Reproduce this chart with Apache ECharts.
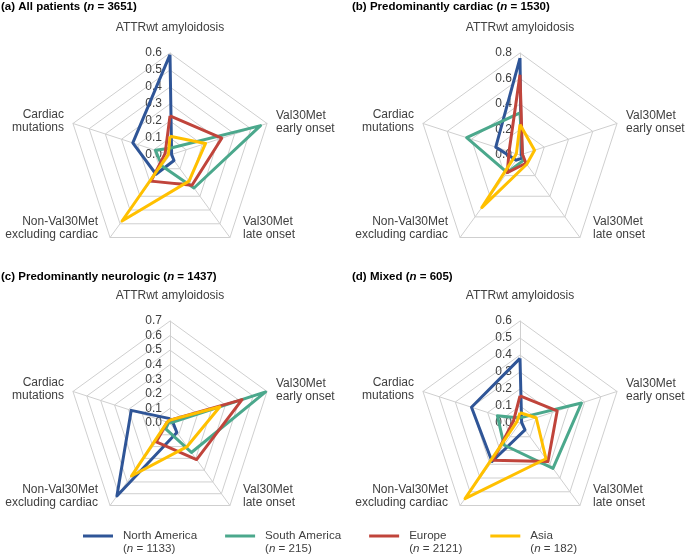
<!DOCTYPE html>
<html>
<head>
<meta charset="utf-8">
<script src="https://cdn.jsdelivr.net/npm/echarts@6/dist/echarts.min.js"></script>
<style>html,body{margin:0;padding:0;background:#fff}#c{width:685px;height:556px}</style>
</head>
<body>
<div id="c"></div>
<script>
// Categories (clockwise from top)
const categories = ['ATTRwt amyloidosis', 'Val30Met\nearly onset', 'Val30Met\nlate onset', 'Non-Val30Met\nexcluding cardiac', 'Cardiac\nmutations'];
const regions = ['North America', 'South America', 'Europe', 'Asia'];
const regionCounts = ['1133', '215', '2121', '182'];
const panelTitles = ['(a) All patients (', '(b) Predominantly cardiac (', '(c) Predominantly neurologic (', '(d) Mixed ('];
const panelCounts = ['3651', '1530', '1437', '605'];
const panelMax = [0.6, 0.8, 0.7, 0.6];
const panelInterval = [0.1, 0.2, 0.1, 0.1];

// values per region, order: ATTRwt, early, late, non-Val30Met, cardiac
const allNorthAmerica = [0.59, 0.01, 0.04, 0.14, 0.23];
const allSouthAmerica = [0.04, 0.56, 0.24, 0.08, 0.09];
const allEurope       = [0.23, 0.32, 0.22, 0.19, 0.03];
const allAsia         = [0.11, 0.22, 0.19, 0.48, 0.01];

const cardNorthAmerica = [0.76, 0.01, 0.03, 0.05, 0.20];
const cardSouthAmerica = [0.33, 0.02, 0.05, 0.17, 0.44];
const cardEurope       = [0.63, 0.02, 0.08, 0.17, 0.09];
const cardAsia         = [0.24, 0.12, 0.09, 0.51, 0.03];

const neuroNorthAmerica = [0.03, 0.02, 0.08, 0.62, 0.28];
const neuroSouthAmerica = [0.00, 0.69, 0.25, 0.05, 0.01];
const neuroEurope       = [0.02, 0.52, 0.31, 0.16, 0.02];
const neuroAsia         = [0.02, 0.36, 0.20, 0.45, 0.02];

const mixedNorthAmerica = [0.38, 0.01, 0.05, 0.28, 0.30];
const mixedSouthAmerica = [0.03, 0.38, 0.33, 0.16, 0.14];
const mixedEurope       = [0.16, 0.23, 0.28, 0.27, 0.04];
const mixedAsia         = [0.06, 0.10, 0.26, 0.55, 0.02];

const panels = [
  [allNorthAmerica, allSouthAmerica, allEurope, allAsia],
  [cardNorthAmerica, cardSouthAmerica, cardEurope, cardAsia],
  [neuroNorthAmerica, neuroSouthAmerica, neuroEurope, neuroAsia],
  [mixedNorthAmerica, mixedSouthAmerica, mixedEurope, mixedAsia]
];

const colors = ['#2F5597', '#4BA88C', '#C0443B', '#FFC000'];
const centers = [[170, 155], [520, 155], [170, 423], [520, 423]];
const R = 102;
const textColor = '#404040';
const gridColor = '#CFCFCF';
const FONT = 'Arial, "Liberation Sans", sans-serif';

// ECharts radar runs counter-clockwise; reorder so the picture reads clockwise
const order = [0, 4, 3, 2, 1];

const radar = [], series = [], graphic = [], title = [];
panels.forEach((pd, p) => {
  const ind = order.map((k, j) => {
    const o = { name: categories[k], max: panelMax[p], min: 0 };
    if (j === 0) o.axisLabel = { show: true };
    return o;
  });
  radar.push({
    center: centers[p], radius: R, shape: 'polygon', startAngle: 90,
    splitNumber: Math.round(panelMax[p] / panelInterval[p]),
    indicator: ind,
    axisName: { show: false },
    axisLine: { lineStyle: { color: gridColor, width: 1 } },
    splitLine: { lineStyle: { color: gridColor, width: 1 } },
    splitArea: { show: false },
    axisTick: { show: false },
    axisLabel: { show: false, color: textColor, fontSize: 12, fontFamily: FONT, margin: 8,
      formatter: v => Number(v).toFixed(1) }
  });
  series.push({
    type: 'radar', radarIndex: p, symbol: 'none', z: 3,
    data: pd.map((vals, r) => ({
      name: regions[r], value: order.map(k => vals[k]),
      lineStyle: { color: colors[r], width: 3 }, itemStyle: { color: colors[r] }
    }))
  });
  const [cx, cy] = centers[p];
  const nameStyle = (text, x, y, align, va) => ({
    type: 'text', x, y, silent: true,
    style: { text, fill: textColor, fontSize: 12, fontFamily: FONT, align, verticalAlign: va, lineHeight: 13 }
  });
  graphic.push(nameStyle(categories[0], cx, cy - 127, 'center', 'middle'));
  graphic.push(nameStyle(categories[1], cx + 106, cy - 33, 'left', 'middle'));
  graphic.push(nameStyle(categories[2], cx + 73, cy + 73, 'left', 'middle'));
  graphic.push(nameStyle(categories[3], cx - 72, cy + 73, 'right', 'middle'));
  graphic.push(nameStyle(categories[4], cx - 106, cy - 34, 'right', 'middle'));
  title.push({
    text: '{b|' + panelTitles[p] + '}{bi|n}{b| = ' + panelCounts[p] + ')}',
    left: p % 2 === 0 ? 1 : 352, top: p < 2 ? 1 : 271, padding: 0,
    textStyle: { rich: {
      b: { fontSize: 11.5, fontWeight: 'bold', color: '#000', fontFamily: FONT },
      bi: { fontSize: 11.5, fontWeight: 'bold', fontStyle: 'italic', color: '#000', fontFamily: FONT }
    } }
  });
});

const chart = echarts.init(document.getElementById('c'));
chart.setOption({
  animation: false,
  color: colors,
  title,
  radar,
  series,
  graphic,
  legend: {
    data: regions, left: 83, top: 530, padding: 0, itemGap: 28,
    itemWidth: 30, itemHeight: 3, icon: 'rect',
    formatter: name => {
      const i = regions.indexOf(name);
      return '{a|' + name + '}\n{a|(}{i|n}{a| = ' + regionCounts[i] + ')}';
    },
    textStyle: {
      padding: [13, 0, 0, 5],
      rich: {
        a: { fontSize: 11.6, color: textColor, fontFamily: FONT, lineHeight: 13 },
        i: { fontSize: 11.6, color: textColor, fontFamily: FONT, fontStyle: 'italic', lineHeight: 13 }
      }
    }
  }
});
</script>
</body>
</html>
